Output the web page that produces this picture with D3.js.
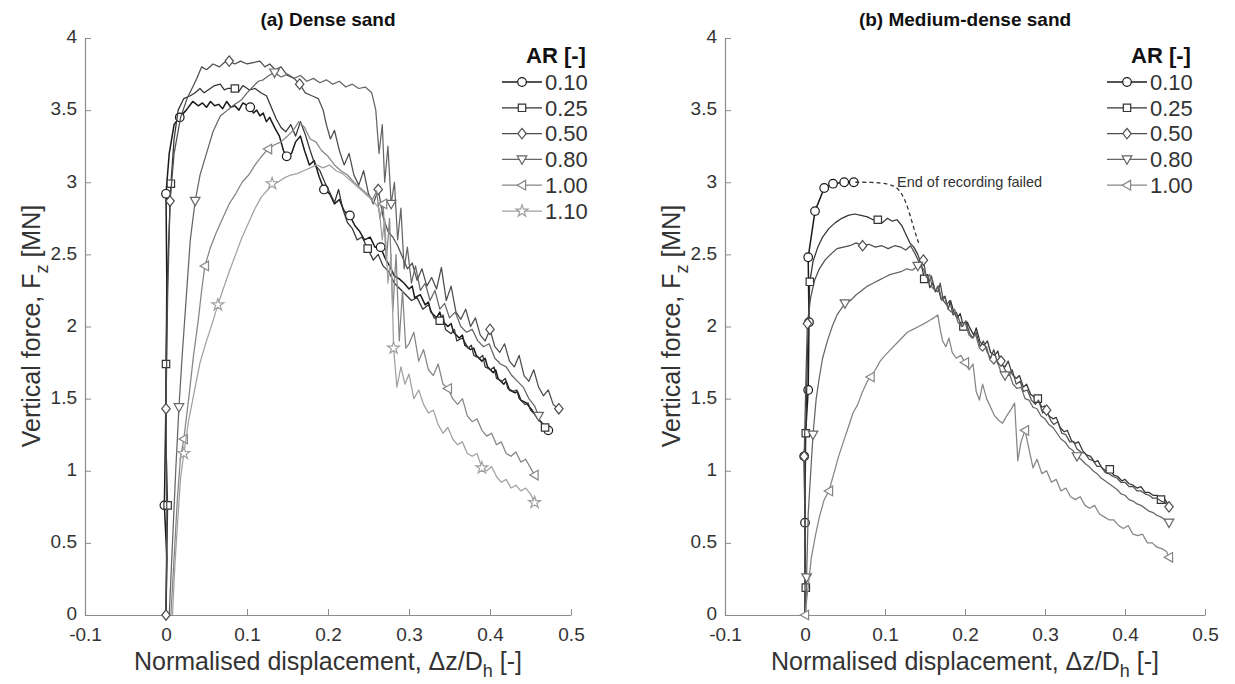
<!DOCTYPE html>
<html><head><meta charset="utf-8">
<script src="https://cdn.jsdelivr.net/npm/d3@7"></script>
<style>
body{margin:0;background:#fff;}
svg{display:block;font-family:"Liberation Sans",Arial,Helvetica,sans-serif;}
</style></head>
<body><svg id="chart" width="1235" height="684"></svg>
<script>
// ---------- DATA ----------
const xTicks = [-0.1, 0, 0.1, 0.2, 0.3, 0.4, 0.5];
const yTicks = [0, 0.5, 1, 1.5, 2, 2.5, 3, 3.5, 4];
const arLabelsDense = ["0.10", "0.25", "0.50", "0.80", "1.00", "1.10"];
const arLabelsMedium = ["0.10", "0.25", "0.50", "0.80", "1.00"];
const panelTitles = ["(a) Dense sand", "(b) Medium-dense sand"];

// (a) Dense sand  [x = Δz/Dh, y = Fz MN]
const dense010 = [[0,0],[0.001,0.4],[-0.002,0.76],[0,1.5],[0.001,2.3],[0,2.92],[0.004,3.2],[0.01,3.4],[0.017,3.45],[0.025,3.5],[0.033,3.56],[0.04,3.53],[0.045,3.55],[0.05,3.52],[0.055,3.56],[0.06,3.53],[0.065,3.54],[0.07,3.51],[0.075,3.56],[0.08,3.52],[0.085,3.53],[0.09,3.5],[0.095,3.55],[0.104,3.52],[0.108,3.48],[0.112,3.5],[0.116,3.46],[0.12,3.48],[0.124,3.42],[0.128,3.45],[0.134,3.38],[0.14,3.32],[0.145,3.22],[0.149,3.18],[0.155,3.2],[0.16,3.28],[0.166,3.32],[0.171,3.22],[0.177,3.12],[0.183,3.15],[0.189,3.04],[0.195,2.95],[0.202,2.92],[0.208,2.85],[0.214,2.88],[0.22,2.8],[0.227,2.77],[0.233,2.7],[0.239,2.66],[0.245,2.6],[0.252,2.62],[0.258,2.55],[0.265,2.55],[0.27,2.48],[0.276,2.42],[0.282,2.35],[0.288,2.33],[0.294,2.3],[0.3,2.26],[0.304,2.28],[0.307,2.2],[0.314,2.22],[0.32,2.15],[0.324,2.17],[0.327,2.1],[0.334,2.06],[0.338,2.1],[0.341,2.04],[0.348,2.0],[0.352,2.02],[0.355,1.96],[0.362,1.92],[0.366,1.94],[0.369,1.87],[0.376,1.84],[0.38,1.85],[0.383,1.8],[0.39,1.76],[0.394,1.78],[0.397,1.72],[0.404,1.68],[0.407,1.7],[0.41,1.64],[0.417,1.6],[0.42,1.62],[0.424,1.56],[0.431,1.54],[0.434,1.55],[0.438,1.49],[0.445,1.47],[0.449,1.44],[0.452,1.42],[0.459,1.36],[0.466,1.32],[0.472,1.28]];
const dense010Marks = [[-0.002,0.76],[0,2.92],[0.017,3.45],[0.104,3.52],[0.149,3.18],[0.195,2.95],[0.227,2.77],[0.265,2.55],[0.472,1.28]];

const dense025 = [[0,0],[0.002,0.76],[0,1.2],[0,1.74],[0.002,2.4],[0.006,2.99],[0.01,3.3],[0.015,3.5],[0.022,3.58],[0.03,3.6],[0.036,3.62],[0.042,3.65],[0.047,3.62],[0.052,3.64],[0.06,3.67],[0.067,3.68],[0.072,3.64],[0.076,3.65],[0.085,3.65],[0.09,3.63],[0.095,3.67],[0.103,3.64],[0.11,3.65],[0.117,3.62],[0.124,3.6],[0.13,3.52],[0.136,3.44],[0.142,3.38],[0.148,3.35],[0.154,3.4],[0.16,3.32],[0.166,3.42],[0.172,3.33],[0.178,3.22],[0.184,3.12],[0.19,3.08],[0.196,3.0],[0.202,2.93],[0.208,2.86],[0.213,2.95],[0.218,2.82],[0.224,2.72],[0.23,2.68],[0.236,2.6],[0.242,2.62],[0.249,2.54],[0.256,2.46],[0.262,2.5],[0.268,2.42],[0.275,2.38],[0.282,2.3],[0.289,2.26],[0.296,2.22],[0.303,2.18],[0.31,2.2],[0.317,2.12],[0.324,2.15],[0.331,2.06],[0.338,2.04],[0.342,2.08],[0.345,1.98],[0.352,1.95],[0.356,1.98],[0.359,1.9],[0.366,1.92],[0.373,1.85],[0.377,1.87],[0.38,1.8],[0.387,1.78],[0.391,1.8],[0.394,1.72],[0.401,1.7],[0.405,1.72],[0.408,1.64],[0.415,1.62],[0.419,1.64],[0.422,1.57],[0.429,1.55],[0.433,1.56],[0.436,1.5],[0.443,1.46],[0.447,1.47],[0.45,1.42],[0.457,1.38],[0.464,1.33],[0.468,1.3]];
const dense025Marks = [[0.002,0.76],[0,1.74],[0.006,2.99],[0.085,3.65],[0.249,2.54],[0.338,2.04],[0.468,1.3]];

const dense050 = [[0,0],[0.001,0.7],[0,1.43],[0.002,2.2],[0.005,2.87],[0.01,3.2],[0.018,3.45],[0.026,3.58],[0.033,3.66],[0.038,3.72],[0.044,3.8],[0.05,3.78],[0.058,3.82],[0.066,3.8],[0.072,3.83],[0.078,3.84],[0.085,3.82],[0.092,3.84],[0.1,3.82],[0.108,3.83],[0.116,3.84],[0.122,3.8],[0.128,3.82],[0.135,3.78],[0.142,3.8],[0.15,3.74],[0.158,3.72],[0.165,3.68],[0.172,3.62],[0.18,3.6],[0.188,3.58],[0.194,3.5],[0.198,3.4],[0.203,3.3],[0.208,3.36],[0.214,3.22],[0.22,3.12],[0.226,3.2],[0.232,3.05],[0.238,2.98],[0.244,3.08],[0.25,2.92],[0.256,2.85],[0.262,2.95],[0.268,2.76],[0.274,2.66],[0.28,2.62],[0.286,2.56],[0.292,2.48],[0.298,2.4],[0.304,2.44],[0.31,2.32],[0.316,2.4],[0.322,2.28],[0.328,2.34],[0.334,2.26],[0.34,2.41],[0.346,2.18],[0.352,2.28],[0.358,2.1],[0.364,2.05],[0.37,2.12],[0.376,2.0],[0.382,2.06],[0.388,1.94],[0.394,1.9],[0.4,1.98],[0.406,1.86],[0.412,1.82],[0.418,1.88],[0.424,1.76],[0.43,1.72],[0.436,1.8],[0.442,1.66],[0.448,1.62],[0.454,1.7],[0.46,1.58],[0.466,1.52],[0.472,1.56],[0.478,1.46],[0.485,1.43]];
const dense050Marks = [[0,0],[0,1.43],[0.005,2.87],[0.078,3.84],[0.165,3.68],[0.262,2.95],[0.4,1.98],[0.485,1.43]];

const dense080 = [[0.004,0],[0.008,0.5],[0.012,1.0],[0.016,1.44],[0.02,1.8],[0.025,2.2],[0.03,2.6],[0.036,2.87],[0.042,3.05],[0.05,3.2],[0.058,3.35],[0.067,3.46],[0.076,3.5],[0.085,3.54],[0.093,3.57],[0.1,3.62],[0.107,3.66],[0.114,3.7],[0.12,3.71],[0.127,3.74],[0.134,3.76],[0.142,3.73],[0.15,3.75],[0.158,3.72],[0.166,3.74],[0.174,3.7],[0.182,3.72],[0.19,3.69],[0.198,3.71],[0.206,3.68],[0.214,3.7],[0.222,3.66],[0.23,3.68],[0.238,3.65],[0.246,3.66],[0.254,3.62],[0.259,3.5],[0.263,3.2],[0.267,3.4],[0.27,3.0],[0.274,3.25],[0.278,2.85],[0.282,3.0],[0.286,2.6],[0.29,2.82],[0.294,2.4],[0.298,2.55],[0.303,2.3],[0.308,2.42],[0.314,2.25],[0.32,2.3],[0.326,2.18],[0.332,2.25],[0.338,2.12],[0.344,2.16],[0.35,2.06],[0.357,2.1],[0.364,2.0],[0.371,1.96],[0.378,1.98],[0.385,1.9],[0.392,1.86],[0.399,1.88],[0.406,1.78],[0.413,1.74],[0.42,1.72],[0.427,1.66],[0.434,1.62],[0.441,1.58],[0.448,1.5],[0.455,1.45],[0.46,1.38]];
const dense080Marks = [[0.016,1.44],[0.036,2.87],[0.134,3.76],[0.278,2.85],[0.46,1.38]];

const dense100 = [[0.006,0],[0.01,0.4],[0.014,0.8],[0.018,1.1],[0.022,1.22],[0.028,1.5],[0.034,1.8],[0.04,2.05],[0.044,2.25],[0.048,2.42],[0.055,2.55],[0.062,2.65],[0.07,2.75],[0.078,2.85],[0.086,2.92],[0.094,3.0],[0.102,3.05],[0.11,3.12],[0.118,3.18],[0.126,3.23],[0.134,3.26],[0.142,3.28],[0.15,3.32],[0.157,3.36],[0.164,3.42],[0.171,3.38],[0.178,3.3],[0.185,3.28],[0.192,3.22],[0.2,3.18],[0.208,3.12],[0.216,3.08],[0.224,3.05],[0.232,3.0],[0.24,2.96],[0.248,2.92],[0.255,2.88],[0.26,2.94],[0.264,2.75],[0.268,2.85],[0.272,2.45],[0.276,2.75],[0.28,2.1],[0.284,2.5],[0.288,1.9],[0.292,2.25],[0.296,1.85],[0.3,1.88],[0.306,1.96],[0.312,1.76],[0.318,1.84],[0.324,1.7],[0.33,1.66],[0.336,1.74],[0.342,1.6],[0.348,1.57],[0.354,1.5],[0.36,1.46],[0.366,1.5],[0.372,1.38],[0.378,1.34],[0.384,1.36],[0.39,1.28],[0.396,1.24],[0.402,1.26],[0.408,1.18],[0.414,1.2],[0.42,1.12],[0.426,1.1],[0.432,1.13],[0.438,1.06],[0.444,1.08],[0.45,1.02],[0.455,0.97]];
const dense100Marks = [[0.022,1.22],[0.048,2.42],[0.126,3.23],[0.268,2.85],[0.348,1.57],[0.455,0.97]];

const dense110 = [[0.008,0],[0.011,0.35],[0.015,0.7],[0.018,0.95],[0.022,1.12],[0.028,1.35],[0.035,1.55],[0.042,1.75],[0.05,1.9],[0.057,2.02],[0.064,2.15],[0.07,2.25],[0.078,2.38],[0.086,2.5],[0.094,2.62],[0.102,2.72],[0.11,2.82],[0.118,2.9],[0.126,2.95],[0.131,2.99],[0.138,3.0],[0.146,3.03],[0.154,3.05],[0.162,3.06],[0.17,3.08],[0.178,3.1],[0.186,3.12],[0.194,3.1],[0.202,3.12],[0.21,3.08],[0.218,3.06],[0.226,3.02],[0.234,2.98],[0.242,2.94],[0.25,2.9],[0.257,2.86],[0.263,2.82],[0.267,2.6],[0.27,2.75],[0.274,2.3],[0.278,2.5],[0.281,1.85],[0.285,1.58],[0.29,1.72],[0.295,1.6],[0.3,1.67],[0.306,1.5],[0.312,1.56],[0.318,1.46],[0.324,1.4],[0.33,1.42],[0.336,1.32],[0.342,1.26],[0.348,1.3],[0.354,1.22],[0.36,1.18],[0.366,1.2],[0.372,1.12],[0.378,1.1],[0.384,1.12],[0.39,1.02],[0.396,1.0],[0.402,1.03],[0.408,0.96],[0.414,0.92],[0.42,0.94],[0.426,0.88],[0.432,0.9],[0.438,0.86],[0.444,0.88],[0.45,0.84],[0.455,0.78]];
const dense110Marks = [[0.022,1.12],[0.064,2.15],[0.131,2.99],[0.281,1.85],[0.39,1.02],[0.455,0.78]];

// (b) Medium-dense sand
const medium010 = [[0,0],[0,0.64],[-0.001,1.1],[0.004,1.56],[0.005,2.03],[0.004,2.48],[0.0125,2.8],[0.024,2.96],[0.035,2.99],[0.049,3.0],[0.061,3.0]];
const medium010Marks = [[0,0.64],[-0.001,1.1],[0.004,1.56],[0.005,2.03],[0.004,2.48],[0.0125,2.8],[0.024,2.96],[0.035,2.99],[0.049,3.0],[0.061,3.0]];
const medium010Dashed = [[0.063,3.0],[0.085,3.0],[0.105,2.99],[0.117,2.96],[0.125,2.88],[0.131,2.78],[0.136,2.68],[0.142,2.58]];

const medium025 = [[0,0],[0.001,0.19],[0,0.7],[0.001,1.26],[0.003,1.8],[0.006,2.31],[0.01,2.45],[0.016,2.55],[0.022,2.62],[0.03,2.68],[0.038,2.72],[0.046,2.75],[0.054,2.77],[0.062,2.78],[0.07,2.77],[0.078,2.76],[0.085,2.74],[0.091,2.74],[0.097,2.72],[0.103,2.75],[0.109,2.73],[0.115,2.74],[0.121,2.7],[0.126,2.64],[0.131,2.58],[0.136,2.55],[0.141,2.5],[0.146,2.42],[0.149,2.33],[0.153,2.36],[0.156,2.27],[0.16,2.3],[0.163,2.24],[0.166,2.28],[0.17,2.19],[0.175,2.21],[0.179,2.12],[0.182,2.18],[0.186,2.1],[0.19,2.06],[0.194,2.09],[0.198,2.0],[0.203,2.03],[0.207,1.98],[0.211,1.94],[0.214,1.99],[0.219,1.89],[0.224,1.87],[0.228,1.9],[0.232,1.82],[0.237,1.8],[0.241,1.83],[0.245,1.74],[0.25,1.72],[0.254,1.76],[0.259,1.67],[0.264,1.64],[0.268,1.66],[0.273,1.58],[0.277,1.6],[0.282,1.53],[0.287,1.51],[0.291,1.5],[0.296,1.44],[0.3,1.45],[0.305,1.38],[0.31,1.36],[0.314,1.37],[0.319,1.3],[0.324,1.27],[0.328,1.28],[0.333,1.21],[0.338,1.19],[0.342,1.2],[0.347,1.14],[0.352,1.11],[0.357,1.1],[0.362,1.06],[0.366,1.07],[0.371,1.02],[0.376,1.0],[0.381,1.01],[0.386,0.97],[0.391,0.96],[0.396,0.93],[0.4,0.94],[0.405,0.91],[0.41,0.9],[0.415,0.88],[0.42,0.89],[0.425,0.85],[0.43,0.85],[0.435,0.83],[0.44,0.83],[0.445,0.8],[0.45,0.8],[0.455,0.76]];
const medium025Marks = [[0.001,0.19],[0.001,1.26],[0.006,2.31],[0.091,2.74],[0.149,2.33],[0.198,2.0],[0.291,1.5],[0.381,1.01],[0.445,0.8]];

const medium050 = [[0,0],[0,0.6],[-0.001,1.1],[0.001,1.6],[0.003,2.02],[0.007,2.2],[0.012,2.32],[0.018,2.4],[0.025,2.46],[0.032,2.5],[0.04,2.54],[0.048,2.55],[0.056,2.56],[0.064,2.58],[0.072,2.56],[0.08,2.57],[0.088,2.55],[0.096,2.56],[0.104,2.54],[0.112,2.56],[0.12,2.55],[0.126,2.53],[0.132,2.56],[0.138,2.5],[0.143,2.44],[0.148,2.46],[0.151,2.36],[0.155,2.31],[0.158,2.35],[0.162,2.26],[0.166,2.24],[0.169,2.3],[0.173,2.18],[0.177,2.15],[0.181,2.18],[0.185,2.08],[0.189,2.1],[0.193,2.04],[0.197,2.0],[0.201,2.04],[0.206,1.95],[0.21,1.92],[0.214,1.96],[0.219,1.86],[0.223,1.9],[0.228,1.82],[0.232,1.78],[0.236,1.84],[0.241,1.74],[0.245,1.76],[0.25,1.7],[0.255,1.66],[0.259,1.7],[0.264,1.6],[0.269,1.62],[0.273,1.55],[0.278,1.56],[0.283,1.49],[0.288,1.46],[0.292,1.49],[0.297,1.4],[0.302,1.42],[0.307,1.35],[0.311,1.32],[0.316,1.34],[0.321,1.26],[0.326,1.25],[0.331,1.2],[0.336,1.2],[0.34,1.15],[0.345,1.13],[0.35,1.12],[0.355,1.08],[0.36,1.07],[0.365,1.03],[0.37,1.03],[0.375,0.99],[0.38,0.98],[0.385,0.96],[0.39,0.95],[0.395,0.92],[0.4,0.92],[0.405,0.89],[0.41,0.89],[0.415,0.86],[0.42,0.86],[0.425,0.84],[0.43,0.83],[0.435,0.81],[0.44,0.81],[0.445,0.79],[0.45,0.78],[0.455,0.75]];
const medium050Marks = [[-0.001,1.1],[0.003,2.02],[0.072,2.56],[0.148,2.46],[0.245,1.76],[0.302,1.42],[0.455,0.75]];

const medium080 = [[0.001,0],[0.002,0.26],[0.004,0.7],[0.01,1.25],[0.014,1.5],[0.018,1.65],[0.022,1.78],[0.028,1.9],[0.034,2.0],[0.04,2.08],[0.05,2.16],[0.057,2.18],[0.064,2.22],[0.071,2.25],[0.078,2.28],[0.085,2.3],[0.092,2.32],[0.099,2.34],[0.106,2.36],[0.113,2.37],[0.12,2.38],[0.127,2.4],[0.134,2.39],[0.141,2.42],[0.148,2.4],[0.152,2.34],[0.156,2.36],[0.159,2.27],[0.163,2.25],[0.167,2.28],[0.171,2.18],[0.175,2.2],[0.179,2.12],[0.183,2.1],[0.187,2.12],[0.191,2.03],[0.196,2.0],[0.2,2.03],[0.205,1.94],[0.209,1.92],[0.213,1.95],[0.218,1.85],[0.222,1.83],[0.227,1.86],[0.231,1.77],[0.236,1.74],[0.24,1.77],[0.245,1.68],[0.25,1.66],[0.255,1.68],[0.26,1.6],[0.265,1.57],[0.27,1.58],[0.275,1.5],[0.28,1.49],[0.285,1.44],[0.29,1.43],[0.295,1.38],[0.3,1.36],[0.305,1.32],[0.31,1.3],[0.315,1.26],[0.32,1.22],[0.325,1.2],[0.33,1.16],[0.335,1.14],[0.34,1.1],[0.345,1.08],[0.35,1.05],[0.355,1.03],[0.36,1.0],[0.365,0.98],[0.37,0.95],[0.375,0.93],[0.38,0.91],[0.385,0.89],[0.39,0.87],[0.395,0.84],[0.4,0.83],[0.405,0.8],[0.41,0.79],[0.415,0.77],[0.42,0.76],[0.425,0.74],[0.43,0.72],[0.435,0.71],[0.44,0.69],[0.445,0.68],[0.45,0.66],[0.455,0.64]];
const medium080Marks = [[0.002,0.26],[0.01,1.25],[0.05,2.16],[0.141,2.42],[0.25,1.66],[0.34,1.1],[0.455,0.64]];

const medium100 = [[0,0],[0.004,0.2],[0.008,0.4],[0.013,0.55],[0.018,0.68],[0.024,0.8],[0.03,0.86],[0.036,0.98],[0.042,1.1],[0.048,1.2],[0.054,1.3],[0.06,1.4],[0.066,1.46],[0.072,1.55],[0.078,1.62],[0.082,1.65],[0.088,1.7],[0.094,1.76],[0.1,1.8],[0.107,1.84],[0.114,1.88],[0.121,1.92],[0.128,1.96],[0.135,1.98],[0.142,2.0],[0.149,2.02],[0.155,2.04],[0.161,2.06],[0.166,2.08],[0.169,1.98],[0.172,1.9],[0.176,1.86],[0.18,1.92],[0.184,1.82],[0.189,1.78],[0.195,1.8],[0.2,1.75],[0.205,1.7],[0.21,1.74],[0.214,1.55],[0.218,1.49],[0.222,1.6],[0.227,1.5],[0.232,1.44],[0.237,1.38],[0.242,1.35],[0.247,1.33],[0.252,1.38],[0.257,1.42],[0.262,1.47],[0.266,1.07],[0.27,1.2],[0.275,1.28],[0.28,1.15],[0.285,1.02],[0.29,1.08],[0.296,0.98],[0.302,1.0],[0.308,0.92],[0.314,0.94],[0.32,0.86],[0.326,0.88],[0.332,0.82],[0.338,0.8],[0.344,0.82],[0.35,0.76],[0.356,0.74],[0.362,0.76],[0.368,0.7],[0.374,0.68],[0.38,0.66],[0.386,0.66],[0.392,0.62],[0.398,0.6],[0.404,0.62],[0.41,0.56],[0.416,0.55],[0.422,0.56],[0.428,0.5],[0.434,0.5],[0.44,0.47],[0.446,0.46],[0.452,0.44],[0.455,0.4]];
const medium100Marks = [[0,0],[0.03,0.86],[0.082,1.65],[0.2,1.75],[0.275,1.28],[0.455,0.4]];

const seriesColors = ["#1a1a1a", "#333333", "#4d4d4d", "#666666", "#858585", "#a0a0a0"];
const seriesMarkers = ["circle", "square", "diamond", "triDown", "triLeft", "star"];

// ---------- DRAWING ----------
const svg = d3.select("#chart");
const FONT = '"Liberation Sans",Arial,Helvetica,sans-serif';
const AXIS_COLOR = "#8c8c8c";
const TEXT_COLOR = "#333333";

function markerPath(type) {
  const p = d3.path();
  switch (type) {
    case "circle": p.arc(0, 0, 4.3, 0, 2 * Math.PI); break;
    case "square": p.rect(-3.7, -3.7, 7.4, 7.4); break;
    case "diamond": p.moveTo(0, -5.2); p.lineTo(4.2, 0); p.lineTo(0, 5.2); p.lineTo(-4.2, 0); p.closePath(); break;
    case "triDown": p.moveTo(-4.8, -3.6); p.lineTo(4.8, -3.6); p.lineTo(0, 4.8); p.closePath(); break;
    case "triLeft": p.moveTo(-4.8, 0); p.lineTo(3.6, -4.8); p.lineTo(3.6, 4.8); p.closePath(); break;
    case "star": return d3.symbol(d3.symbolStar, 44)();
  }
  return p.toString();
}

const y = d3.scaleLinear().domain([0, 4]).range([615, 38]);

const panels = [
  {x0: 85, x1: 571, title: panelTitles[0], labels: arLabelsDense,
   series: [[dense010, dense010Marks], [dense025, dense025Marks], [dense050, dense050Marks], [dense080, dense080Marks], [dense100, dense100Marks], [dense110, dense110Marks]],
   legendX: 502},
  {x0: 725, x1: 1205, title: panelTitles[1], labels: arLabelsMedium,
   series: [[medium010, medium010Marks], [medium025, medium025Marks], [medium050, medium050Marks], [medium080, medium080Marks], [medium100, medium100Marks]],
   legendX: 1107, dashed: medium010Dashed}
];

panels.forEach((P, pi) => {
  const x = d3.scaleLinear().domain([-0.1, 0.5]).range([P.x0, P.x1]);
  const g = svg.append("g");
  const fmt = d => d === 0 ? "0" : String(d);

  const xa = g.append("g").attr("transform", `translate(0,${y(0)})`)
    .call(d3.axisBottom(x).tickValues(xTicks).tickFormat(fmt).tickSizeInner(-6).tickSizeOuter(0).tickPadding(13));
  const ya = g.append("g").attr("transform", `translate(${P.x0},0)`)
    .call(d3.axisLeft(y).tickValues(yTicks).tickFormat(fmt).tickSizeInner(-6).tickSizeOuter(0).tickPadding(8));
  [xa, ya].forEach(a => {
    a.select(".domain").attr("stroke", AXIS_COLOR).attr("stroke-width", 1.2);
    a.selectAll(".tick line").attr("stroke", AXIS_COLOR).attr("stroke-width", 1);
    a.selectAll(".tick text").attr("fill", TEXT_COLOR).style("font-size", "19px").style("font-family", FONT);
  });
  ya.selectAll(".tick text").attr("dy", "0.25em");

  // axis labels
  const xl = g.append("text").attr("x", (P.x0 + P.x1) / 2).attr("y", 670)
    .attr("text-anchor", "middle").attr("fill", TEXT_COLOR).style("font-size", "25px");
  xl.append("tspan").text("Normalised displacement, \u0394z/D");
  xl.append("tspan").attr("dy", 7).style("font-size", "18px").text("h");
  xl.append("tspan").attr("dy", -7).text(" [-]");

  const yl = g.append("text").attr("transform", `translate(${P.x0 - 45},326) rotate(-90)`)
    .attr("text-anchor", "middle").attr("fill", TEXT_COLOR).style("font-size", "25px");
  yl.append("tspan").text("Vertical force, F");
  yl.append("tspan").attr("dy", 8).style("font-size", "18px").text("z");
  yl.append("tspan").attr("dy", -8).text(" [MN]");

  // title
  g.append("text").attr("x", (P.x0 + P.x1) / 2).attr("y", 26).attr("text-anchor", "middle")
    .style("font-size", "19px").style("font-weight", "bold").attr("fill", "#111").text(P.title);

  const line = d3.line().x(d => x(d[0])).y(d => y(d[1]));

  P.series.forEach(([pts, marks], i) => {
    const c = seriesColors[i];
    g.append("path").datum(pts).attr("d", line).attr("fill", "none")
      .attr("stroke", c).attr("stroke-width", i === 0 ? 1.5 : 1.25).attr("stroke-linejoin", "round");
    g.selectAll(null).data(marks).enter().append("path")
      .attr("transform", d => `translate(${x(d[0])},${y(d[1])})`)
      .attr("d", markerPath(seriesMarkers[i]))
      .attr("fill", "#fff").attr("stroke", c).attr("stroke-width", 1.2);
  });

  if (P.dashed) {
    g.append("path").datum(P.dashed).attr("d", d3.line().x(d => x(d[0])).y(d => y(d[1])).curve(d3.curveBasis))
      .attr("fill", "none").attr("stroke", "#333").attr("stroke-width", 1.3).attr("stroke-dasharray", "4,3");
    g.append("text").attr("x", 897).attr("y", 187).style("font-size", "14.5px").attr("fill", "#333")
      .text("End of recording failed");
  }

  // legend
  const lg = g.append("g");
  lg.append("text").attr("x", P.legendX + 54).attr("y", 63).attr("text-anchor", "middle")
    .style("font-size", "22px").style("font-weight", "bold").attr("fill", "#111").text("AR [-]");
  P.labels.forEach((lab, i) => {
    const ry = 82 + i * 25.8;
    const c = seriesColors[i];
    lg.append("line").attr("x1", P.legendX).attr("x2", P.legendX + 40).attr("y1", ry).attr("y2", ry)
      .attr("stroke", c).attr("stroke-width", i === 0 ? 1.5 : 1.25);
    lg.append("path").attr("transform", `translate(${P.legendX + 20},${ry})`).attr("d", markerPath(seriesMarkers[i]))
      .attr("fill", "#fff").attr("stroke", c).attr("stroke-width", 1.2);
    lg.append("text").attr("x", P.legendX + 43).attr("y", ry).attr("dy", "0.35em")
      .style("font-size", "22px").attr("fill", TEXT_COLOR).text(lab);
  });
});
</script>
</body></html>
